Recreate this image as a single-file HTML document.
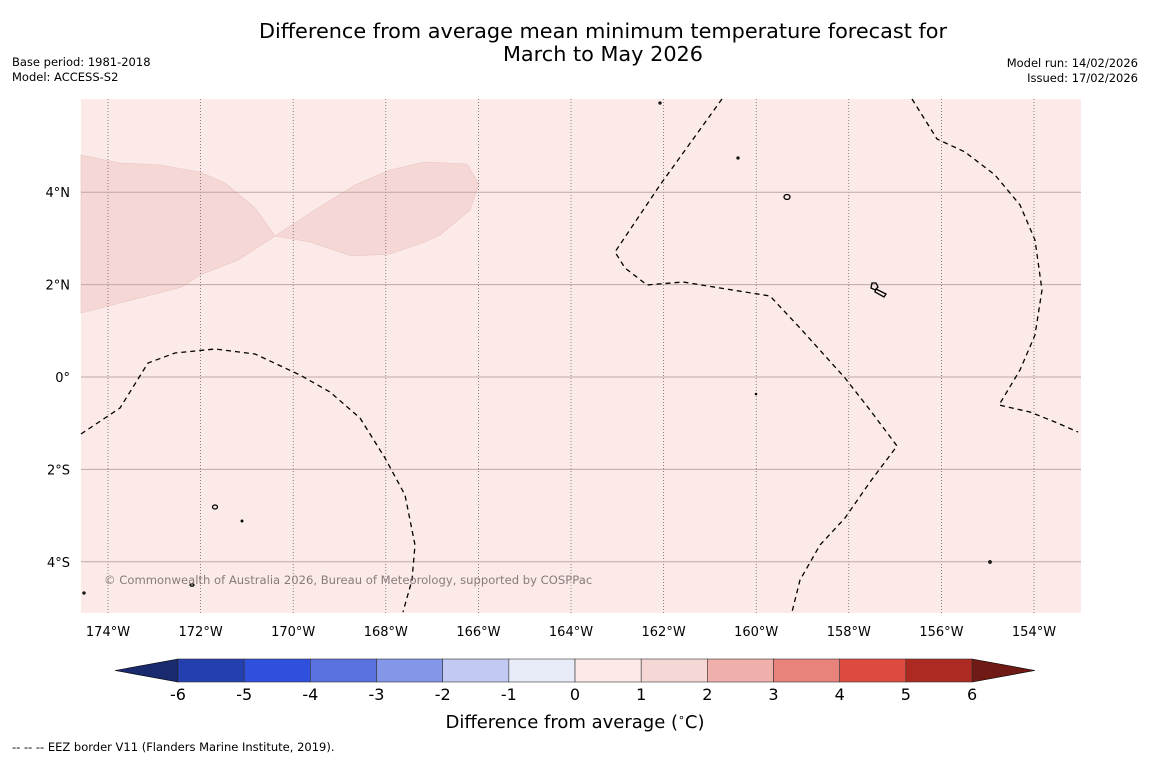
<!DOCTYPE html>
<html><head><meta charset="utf-8"><style>
body{margin:0;background:#fff;font-family:"Liberation Sans","DejaVu Sans",sans-serif}
svg{display:block}
</style></head><body>
<svg id="c" width="1150" height="758" xmlns="http://www.w3.org/2000/svg" font-family="DejaVu Sans, Liberation Sans, sans-serif">
<rect width="1150" height="758" fill="#ffffff"/>
<text x="603" y="38" font-size="20.8" text-anchor="middle" fill="#000">Difference from average mean minimum temperature forecast for</text>
<text x="603" y="61" font-size="20.8" text-anchor="middle" fill="#000">March to May 2026</text>
<text x="12" y="66" font-size="11.5">Base period: 1981-2018</text>
<text x="12" y="81" font-size="11.5">Model: ACCESS-S2</text>
<text x="1138" y="67" font-size="11.5" text-anchor="end">Model run: 14/02/2026</text>
<text x="1138" y="82" font-size="11.5" text-anchor="end">Issued: 17/02/2026</text>
<g id="map">
<rect x="81" y="99" width="1000" height="514" fill="#fbeae8"/>
<polygon fill="#f5d8d5" stroke="#e8c4c0" stroke-width="0.6" points="81,155 120,163 160,165 200,172 225,183 255,208 275,236 315,210 355,185 390,170 425,162 467,164 479,184 470,210 440,235 425,242 390,254 352,256 310,242 275,236 238,260 200,275 182,287 120,303 81,313"/>
</g>
<g id="grid"></g>
<g id="eez" fill="none" stroke="#000" stroke-width="1.3" stroke-dasharray="5,4">
<polyline points="81,434 120,408 148,363 175,353 215,349 255,354 300,375 330,392 360,418 385,458 405,495 415,545 412,580 403,612"/>
<polyline points="722,99 660,185 615,252 625,268 647,285 683,282 720,288 770,296 800,328 845,378 870,410 897,446 870,482 845,518 820,545 800,580 792,612"/>
<polyline points="912,99 937,139 965,152 995,175 1020,205 1035,240 1042,290 1035,335 1020,370 999,405 1030,412 1055,422 1078,432"/>
</g>
<g id="islands" fill="none" stroke="#000" stroke-width="1.3">
<ellipse cx="787" cy="197" rx="3" ry="2.5"/>
<path d="M872,283 l4,0 l2,4 l-3,3 l-4,-2 z M876,289 l10,5 l-2,3 l-9,-5 z"/>
<circle cx="660" cy="103" r="1"/><circle cx="738" cy="158" r="1"/>
<ellipse cx="215" cy="507" rx="2.5" ry="2"/><ellipse cx="192" cy="585" rx="2" ry="1.2"/>
<circle cx="242" cy="521" r="0.8"/><circle cx="990" cy="562" r="1.2"/>
<circle cx="84" cy="593" r="1"/><circle cx="756" cy="394" r="0.6"/>
</g>
<text x="104" y="584" font-size="11.6" fill="#8a7a7a">© Commonwealth of Australia 2026, Bureau of Meteorology, supported by COSPPac</text>
<g id="cbar"></g>
<text x="575" y="728" font-size="18" text-anchor="middle">Difference from average (<tspan font-size="11" dy="-7">∘</tspan><tspan dy="7">C)</tspan></text>
<text x="12" y="751" font-size="11.5">--  --  -- EEZ border V11 (Flanders Marine Institute, 2019).</text>
</svg>
<script>
const lonTicks=[-174,-172,-170,-168,-166,-164,-162,-160,-158,-156,-154];
const latTicks=[4,2,0,-2,-4];
const levels=[-6,-5,-4,-3,-2,-1,0,1,2,3,4,5,6];
const colors=["#2440b0","#2f50dc","#5a72e0","#8496e8","#c2c9f2","#e8ecf9","#fbeae8","#f5d8d5","#efafaa","#e8837c","#dd4b40","#ad2a22"];
const underColor="#1a2a6e", overColor="#6f1a15";
const NS="http://www.w3.org/2000/svg";
const xLon=l=>108+(l+174)*46.3;
const yLat=l=>377-l*46.2;
const xLev=v=>178+(v+6)*66.17;
function mk(t,a,p){const e=document.createElementNS(NS,t);for(const k in a)e.setAttribute(k,a[k]);p.appendChild(e);return e;}
const g=document.getElementById('grid');
lonTicks.forEach(l=>{
 const x=xLon(l);
 const ln=mk('line',{x1:x,x2:x,y1:99,y2:613,stroke:'#555',"stroke-width":0.7,"stroke-dasharray":"1,2"},g);
 
 
 const t=mk('text',{x:x,y:636,"font-size":13,"text-anchor":"middle"},g);
 t.textContent=Math.abs(l)+'°W';
 
 
});
latTicks.forEach(l=>{
 const y=yLat(l);
 const ln=mk('line',{x1:81,x2:1081,y1:y,y2:y,stroke:'#c0a8a8',"stroke-width":1},g);
 
 
 const t=mk('text',{x:70,y:y+5,"font-size":13,"text-anchor":"end"},g);
 t.textContent=l===0?'0°':Math.abs(l)+'°'+(l>0?'N':'S');
 
 
});
const cb=document.getElementById('cbar');
const y0=659,h=23;
const u=mk('polygon',{points:`${xLev(-6)},${y0} 115,${y0+h/2} ${xLev(-6)},${y0+h}`,fill:underColor,stroke:'#000',"stroke-width":0.6},cb);


const o=mk('polygon',{points:`${xLev(6)},${y0} 1035,${y0+h/2} ${xLev(6)},${y0+h}`,fill:overColor,stroke:'#000',"stroke-width":0.6},cb);


colors.forEach((c,i)=>{
 const r=mk('rect',{x:xLev(levels[i]),y:y0,width:xLev(levels[i+1])-xLev(levels[i]),height:h,fill:c,stroke:'#333',"stroke-width":0.6},cb);
 
 
});
levels.forEach(v=>{
 const t=mk('text',{x:xLev(v),y:700,"font-size":16,"text-anchor":"middle"},cb);
 t.textContent=v;
 
 
});
</script>
</body></html>
